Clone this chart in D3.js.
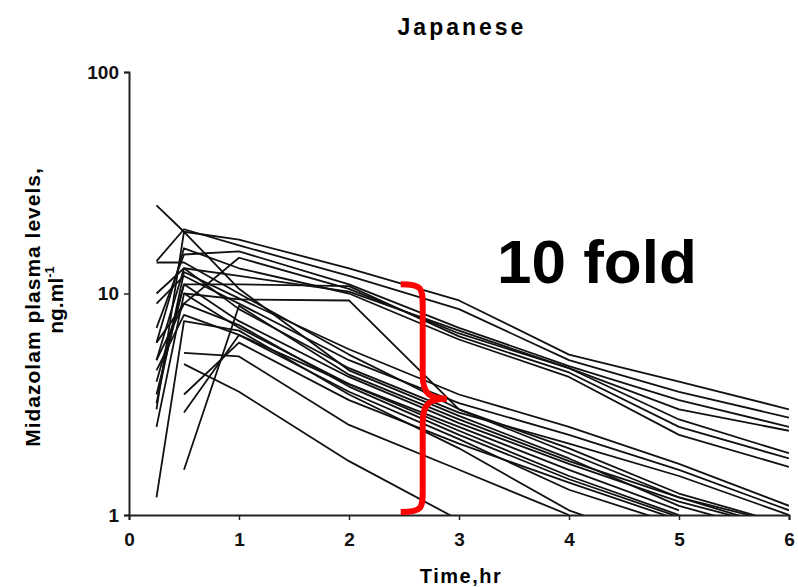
<!DOCTYPE html>
<meta charset="utf-8">
<script src="https://d3js.org/d3.v7.min.js"></script>
<style>
  body { margin: 0; background: #fff; }
  text { font-family: "Liberation Sans", Arial, sans-serif; }
</style>
<div id="chart"></div>
<script>
// sampling times (hr)
var times = [0.25, 0.5, 1, 2, 3, 4, 5, 6];

// midazolam levels, ng/ml, one row per subject (null = no sample)
var slowSubjects = [
  [25, 19, 17.5, 13, 9.3, 5.3, 4.0, 3.0],
  [14, 19.5, 16.5, 12, 8.5, 5.0, 3.6, 2.75],
  [7, 15, 15.5, 11, 7.0, 4.7, 3.3, 2.5],
  [5, 9, 14.5, 10.5, 6.6, 4.6, 2.7, 1.9],
  [4, 11, 11, 10.8, 6.4, 4.4, 2.5, 1.8],
  [6, 16, 13, 10, 6.2, 4.2, 2.3, 1.65],
  [null, 10, 9.4, 9.3, 3.0, 2.0, 1.25, 0.9],
  [10, 13, 12, 10.2, 6.8, 4.6, 3.0, 2.4]
];
var fastSubjects = [
  [3, 19, 10.5, 4.5, 2.8, 1.8, 1.1, 0.8],
  [5, 13, 8.5, 4.6, 2.9, 2.1, 1.5, 1.0],
  [3.5, 11, 7.5, 4.2, 2.6, 1.7, 1.15, 0.85],
  [2.5, 10, 7, 3.9, 2.4, 1.5, 1.0, null],
  [6, 9, 7.2, 3.8, 2.3, 1.45, 0.98, null],
  [4.5, 8, 6.5, 3.6, 2.2, 1.3, 0.9, null],
  [1.2, 7.5, 6.8, 3.5, 2.0, 1.05, 0.7, null],
  [null, 1.6, 8.8, 4.3, 2.7, 1.75, 1.2, 0.85],
  [null, 5.4, 5.2, 2.55, 1.6, 1.0, null, null],
  [null, 4.8, 3.6, 1.75, 0.95, null, null, null],
  [9, 12, 9, 5.0, 3.2, 2.3, 1.6, 1.05],
  [13.8, 13.8, 10, 5.3, 3.0, 1.9, 1.2, 0.9],
  [null, 2.9, 6.5, 3.9, 2.5, 1.6, 1.05, null],
  [null, 3.5, 6.0, 3.3, 2.1, 1.4, 0.95, null],
  [3.2, 12.5, 9.5, 5.6, 3.5, 2.5, 1.7, 1.1]
];

var yTicks = [1, 10, 100];
var xTicks = [0, 1, 2, 3, 4, 5, 6];

var width = 798, height = 587;
var svg = d3.select("#chart").append("svg")
  .attr("width", width)
  .attr("height", height);

var x = d3.scaleLinear().domain([0, 6]).range([129, 789]);
var y = d3.scaleLog().domain([1, 100]).range([515, 72]);

// clip the profiles to the plot box
svg.append("defs").append("clipPath")
  .attr("id", "plot_clip")
  .append("rect")
  .attr("x", x(0)).attr("y", y(100))
  .attr("width", x(6) - x(0)).attr("height", y(1) - y(100));

var line = d3.line()
  .defined(d => d.v != null)
  .x(d => x(d.t))
  .y(d => y(d.v));

var plot = svg.append("g").attr("clip-path", "url(#plot_clip)");
slowSubjects.concat(fastSubjects).forEach(function(row) {
  plot.append("path")
    .datum(row.map((v, i) => ({t: times[i], v: v})))
    .attr("fill", "none")
    .attr("stroke", "#111")
    .attr("stroke-width", 1.8)
    .attr("stroke-linejoin", "round")
    .attr("d", line);
});

// axes
var yAxis = svg.append("g")
  .attr("transform", "translate(" + x(0) + ",0)")
  .call(d3.axisLeft(y).tickValues(yTicks).tickFormat(d3.format("d")).tickSize(5).tickPadding(5));
var xAxis = svg.append("g")
  .attr("transform", "translate(0," + y(1) + ")")
  .call(d3.axisBottom(x).tickValues(xTicks).tickFormat(d3.format("d")).tickSize(5).tickPadding(13));
[yAxis, xAxis].forEach(function(g) {
  g.select(".domain").attr("stroke", "#222").attr("stroke-width", 2);
  g.selectAll(".tick line").attr("stroke", "#222").attr("stroke-width", 1.5);
  g.selectAll(".tick text")
    .attr("fill", "#111")
    .style("font-size", "19px")
    .style("font-weight", "bold");
});

// titles
svg.append("text")
  .attr("x", 462).attr("y", 35)
  .attr("text-anchor", "middle")
  .style("font-size", "23px").style("font-weight", "bold")
  .style("letter-spacing", "3px")
  .text("Japanese");

svg.append("text")
  .attr("x", 461).attr("y", 583)
  .attr("text-anchor", "middle")
  .style("font-size", "20px").style("font-weight", "bold")
  .style("letter-spacing", "1.5px")
  .text("Time,hr");

var yLab = svg.append("text")
  .attr("transform", "translate(40,307) rotate(-90)")
  .attr("text-anchor", "middle")
  .style("font-size", "21px").style("font-weight", "bold")
  .style("letter-spacing", "1px");
yLab.append("tspan").attr("x", 0).attr("dy", 0).text("Midazolam plasma levels,");
var yLab2 = svg.append("text")
  .attr("transform", "translate(63,300) rotate(-90)")
  .attr("text-anchor", "middle")
  .style("font-size", "21px").style("font-weight", "bold");
yLab2.append("tspan").text("ng.ml");
yLab2.append("tspan").attr("dy", -9).style("font-size", "13px").text("-1");

// 10 fold annotation
svg.append("text")
  .attr("x", 497).attr("y", 283)
  .style("font-size", "62px").style("font-weight", "bold")
  .attr("fill", "#000")
  .text("10 fold");

var bTop = y(11), bBot = y(1) - 3, bMid = y(3.35);
var bx0 = x(2.47), bx1 = x(2.67), bx2 = x(2.89);
var brace = d3.path();
brace.moveTo(bx0, bTop);
brace.bezierCurveTo(bx1, bTop, bx1, bTop + 4, bx1, bTop + 22);
brace.lineTo(bx1, bMid - 24);
brace.bezierCurveTo(bx1, bMid - 4, bx1 + 8, bMid, bx2, bMid);
brace.bezierCurveTo(bx1 + 8, bMid, bx1, bMid + 4, bx1, bMid + 24);
brace.lineTo(bx1, bBot - 22);
brace.bezierCurveTo(bx1, bBot - 4, bx1, bBot, bx0, bBot);
svg.append("path")
  .attr("d", brace.toString())
  .attr("fill", "none")
  .attr("stroke", "#ff0000")
  .attr("stroke-width", 6)
  .attr("stroke-linecap", "butt");
</script>
